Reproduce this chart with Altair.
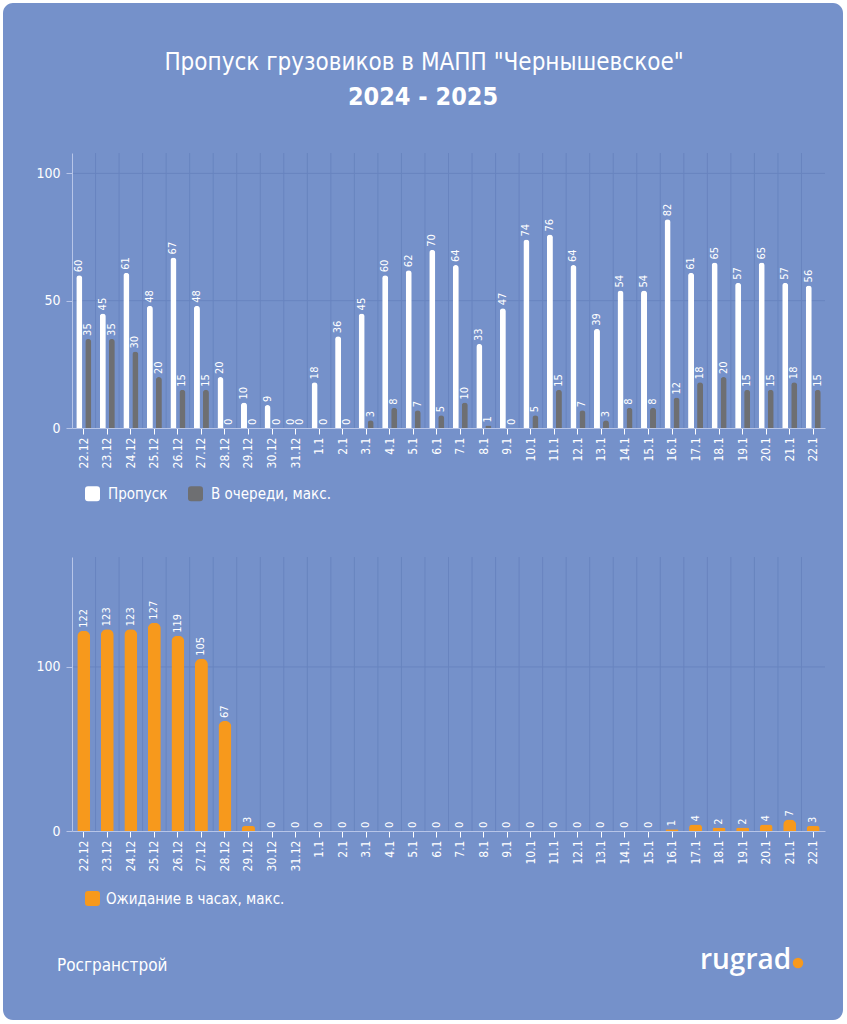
import altair as alt
import pandas as pd

dates = ["22.12", "23.12", "24.12", "25.12", "26.12", "27.12", "28.12", "29.12", "30.12", "31.12",
         "1.1", "2.1", "3.1", "4.1", "5.1", "6.1", "7.1", "8.1", "9.1", "10.1", "11.1",
         "12.1", "13.1", "14.1", "15.1", "16.1", "17.1", "18.1", "19.1", "20.1", "21.1", "22.1"]
passed = [60, 45, 61, 48, 67, 48, 20, 10, 9, 0, 18, 36, 45, 60, 62, 70, 64, 33, 47, 74, 76,
          64, 39, 54, 54, 82, 61, 65, 57, 65, 57, 56]
queue = [35, 35, 30, 20, 15, 15, 0, 0, 0, 0, 0, 0, 3, 8, 7, 5, 10, 1, 0, 5, 15,
         7, 3, 8, 8, 12, 18, 20, 15, 15, 18, 15]
wait_hours = [122, 123, 123, 127, 119, 105, 67, 3, 0, 0, 0, 0, 0, 0, 0, 0, 0, 0, 0, 0, 0,
              0, 0, 0, 0, 1, 4, 2, 2, 4, 7, 3]
series_top = ["Пропуск", "В очереди, макс."]
series_bottom = ["Ожидание в часах, макс."]
grid_top = [50, 100]
grid_bottom = [100]
title_main = 'Пропуск грузовиков в МАПП "Чернышевское"'
title_sub = "2024 - 2025"
source = "Росгранстрой"
logo = "rugrad"

CARD = "#7591CA"
WHITE = "#FFFFFF"
GREY = "#6E6F72"
ORANGE = "#F7991C"
LIGHT = "#B7C5E8"
GRID = "#6884BF"
F = "Liberation Sans Narrow, DejaVu Sans Condensed, Roboto, sans-serif"
ROUNDSQ = ("M-0.6,-1 L0.6,-1 Q1,-1 1,-0.6 L1,0.6 Q1,1 0.6,1 L-0.6,1 "
           "Q-1,1 -1,0.6 L-1,-0.6 Q-1,-1 -0.6,-1 Z")

top_df = pd.DataFrame({
    "d": dates * 2,
    "s": [series_top[0]] * len(dates) + [series_top[1]] * len(dates),
    "v": passed + queue,
})
bot_df = pd.DataFrame({"d": dates, "s": series_bottom[0], "v": wait_hours})
one = pd.DataFrame({"a": [0]})

axis_x = alt.Axis(labelAngle=270, labelAlign="right", labelBaseline="middle", grid=False,
                  domainColor=LIGHT, tickColor=WHITE, tickSize=6, labelColor=WHITE,
                  labelFontSize=12, labelFont=F, labelPadding=3, title=None, zindex=1)


def axis_y(vals):
    return alt.Axis(values=vals, grid=False, domainColor=LIGHT, tickColor=LIGHT, tickSize=6,
                    labelColor=WHITE, labelFontSize=14, labelFont=F, labelPadding=6,
                    title=None, zindex=1)


xs = alt.Scale(paddingInner=0, paddingOuter=0)


def X(**kw):
    return alt.X("d:N", sort=dates, scale=xs, axis=axis_x, **kw)


def legend(y, col_pad=20, offset=8):
    return alt.Legend(orient="none", legendX=13, legendY=y, direction="horizontal",
                      title=None, symbolType=ROUNDSQ, symbolSize=225,
                      symbolStrokeWidth=0, symbolOpacity=1, labelColor=WHITE,
                      labelFontSize=15, labelFont=F, labelLimit=0, columnPadding=col_pad,
                      labelOffset=offset, padding=0, zindex=1)


# ---------- top panel ----------
ys_top = alt.Scale(domain=[0, 108], nice=False)
Yt = alt.Y("v:Q", scale=ys_top, axis=axis_y([0, 50, 100]))

card = alt.Chart(one).mark_rect(fill=CARD, cornerRadius=10).encode(
    x=alt.value(-69), x2=alt.value(771), y=alt.value(-150), y2=alt.value(867))

hgrid_t = alt.Chart(pd.DataFrame({"v": grid_top})).mark_rule(color=GRID, strokeWidth=1).encode(y=Yt)
vgrid_t = alt.Chart(pd.DataFrame({"d": dates[1:]})).mark_rule(color=GRID, strokeWidth=1).encode(
    x=X(bandPosition=0))

xoff = alt.XOffset("s:N", sort=series_top, scale=alt.Scale(paddingInner=0.333, paddingOuter=0.474))
bars_t = alt.Chart(top_df).mark_bar(cornerRadiusTopLeft=3, cornerRadiusTopRight=3).encode(
    x=X(), xOffset=xoff, y=Yt,
    color=alt.Color("s:N", sort=series_top,
                    scale=alt.Scale(domain=series_top, range=[WHITE, GREY]),
                    legend=legend(333)))
labels_t = alt.Chart(top_df).mark_text(angle=270, align="left", baseline="middle", dx=3,
                                       color=WHITE, fontSize=11, font=F).encode(
    x=X(), xOffset=xoff, y=Yt, text="v:Q")

t1 = alt.Chart(one).mark_text(text=title_main, color=WHITE, fontSize=24, font=F,
                              align="center", baseline="alphabetic").encode(
    x=alt.value(352), y=alt.value(-83))
t2 = alt.Chart(one).mark_text(text=title_sub, color=WHITE, fontSize=25, font=F, fontWeight="bold",
                              align="center", baseline="alphabetic").encode(
    x=alt.value(351), y=alt.value(-48))

top = alt.layer(card, hgrid_t, vgrid_t, bars_t, labels_t, t1, t2).properties(width=753, height=275)

# ---------- bottom panel ----------
ys_bot = alt.Scale(domain=[0, 167], nice=False)
Yb = alt.Y("v:Q", scale=ys_bot, axis=axis_y([0, 100]))

hgrid_b = alt.Chart(pd.DataFrame({"v": grid_bottom})).mark_rule(color=GRID, strokeWidth=1).encode(y=Yb)
vgrid_b = alt.Chart(pd.DataFrame({"d": dates[1:]})).mark_rule(color=GRID, strokeWidth=1).encode(
    x=X(bandPosition=0))
bars_b = alt.Chart(bot_df).mark_bar(size=13, cornerRadiusTopLeft=6, cornerRadiusTopRight=6).encode(
    x=X(), y=Yb,
    color=alt.Color("s:N", scale=alt.Scale(domain=series_bottom, range=[ORANGE]),
                    legend=legend(334, offset=6)))
labels_b = alt.Chart(bot_df).mark_text(angle=270, align="left", baseline="middle", dx=3,
                                       color=WHITE, fontSize=11, font=F).encode(
    x=X(), y=Yb, text="v:Q")

src = alt.Chart(one).mark_text(text=source, color=WHITE, fontSize=17, font=F,
                               align="left", baseline="alphabetic").encode(
    x=alt.value(-15), y=alt.value(414))
lg = alt.Chart(one).mark_text(text=logo, color=WHITE, fontSize=28, font="Open Sans",
                              fontWeight=600, align="left", baseline="alphabetic").encode(
    x=alt.value(628), y=alt.value(412))
dot = alt.Chart(one).mark_point(filled=True, shape="circle", size=110, color=ORANGE, opacity=1).encode(
    x=alt.value(726), y=alt.value(406))

bottom = alt.layer(hgrid_b, vgrid_b, bars_b, labels_b, src, lg, dot).properties(width=753, height=274)

chart = alt.vconcat(top, bottom, spacing=129, bounds="flush").resolve_scale(
    color="independent").properties(
    background="#FFFFFF", padding={"left": 3, "top": 3, "right": 4, "bottom": 4}
).configure_view(stroke=None)

chart.save("out.html", embed_options={"renderer": "svg", "actions": False})
